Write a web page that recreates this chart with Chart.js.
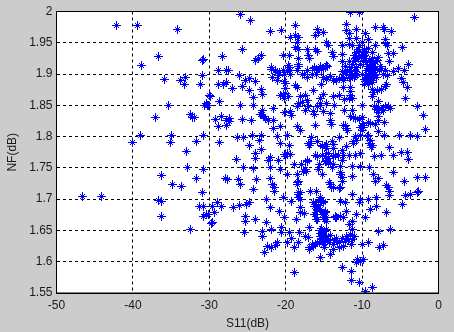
<!DOCTYPE html>
<html><head><meta charset="utf-8">
<script src="https://cdn.jsdelivr.net/npm/chart.js@4"></script>
<style>html,body{margin:0;padding:0;background:#cccccc}#w{position:absolute;left:0;top:0;width:454px;height:332px}</style>
</head><body><div id="w"><canvas id="c"></canvas></div>
<script>
const xTicks=[-50,-40,-30,-20,-10,0];
const yTicks=[1.55,1.6,1.65,1.7,1.75,1.8,1.85,1.9,1.95,2];
const leftPts=[[-42.1,1.978],[-39.4,1.978],[-34.2,1.971],[-36.6,1.928],[-38.9,1.914],[-35.8,1.892],[-33.8,1.89],[-33.1,1.895],[-33.2,1.883],[-31.1,1.883],[-30.9,1.898],[-30.9,1.922],[-30.7,1.923],[-28.3,1.928],[-28.8,1.906],[-27.8,1.906],[-28.8,1.883],[-28.1,1.883],[-27.7,1.886],[-30,1.865],[-29.8,1.864],[-28.6,1.856],[-35.4,1.85],[-30.6,1.85],[-30.3,1.85],[-30.4,1.853],[-30.1,1.85],[-37.1,1.83],[-32.4,1.835],[-32.2,1.83],[-32,1.83],[-29.2,1.827],[-28.4,1.832],[-28.8,1.816],[-27.7,1.826],[-27.7,1.817],[-39,1.802],[-40.1,1.79],[-35,1.802],[-35.1,1.79],[-30.7,1.802],[-31.7,1.792],[-28.6,1.79],[-33,1.776],[-32.8,1.75],[-46.6,1.705],[-44.1,1.705],[-36.2,1.738],[-34.8,1.724],[-33.7,1.72],[-30.8,1.748],[-31.7,1.733],[-27.9,1.733],[-30.9,1.711],[-36.7,1.698],[-36.3,1.696],[-36.2,1.673],[-28.9,1.695],[-31.3,1.689],[-30.7,1.689],[-29.6,1.689],[-28.4,1.689],[-30.7,1.673],[-30.4,1.676],[-30.1,1.676],[-29.3,1.679],[-29.6,1.663],[-29.7,1.661],[-32.4,1.652]];
const topPts=[[-25.9,1.996],[-24.6,1.985],[-11.5,1.998],[-10.3,1.998],[-3.1,1.99],[-22,1.968],[-20.6,1.97],[-18.7,1.977],[-19.4,1.958],[-18.7,1.962],[-18.3,1.958],[-18.5,1.951],[-18.7,1.943],[-18.3,1.94],[-15.9,1.971],[-15.7,1.966],[-16.1,1.961],[-15,1.966],[-12.1,1.98],[-12.1,1.969],[-11.7,1.965],[-10.7,1.971],[-11.7,1.957],[-10.7,1.957],[-9.6,1.965],[-9.1,1.955],[-8.3,1.974],[-7.2,1.974],[-7.1,1.971],[-6.2,1.968],[-6.9,1.955],[-6.9,1.949],[-8.3,1.946],[-6.7,1.946],[-4.7,1.942],[-25.7,1.939],[-23.2,1.929],[-23.5,1.925],[-24,1.921],[-20.3,1.929],[-19.5,1.93],[-18.3,1.925],[-17.2,1.94],[-17,1.93],[-16.9,1.925],[-16.1,1.94],[-15.9,1.936],[-14.6,1.95],[-14.4,1.945],[-13.8,1.928],[-13.9,1.935],[-12.6,1.946],[-12.6,1.932],[-12.6,1.92],[-11.7,1.948],[-11.3,1.945],[-20.3,1.905],[-19.5,1.91],[-19.4,1.9],[-18.3,1.915],[-18.4,1.905],[-21.9,1.91],[-21.3,1.905],[-20.8,1.903],[-20.2,1.9],[-19.8,1.905],[-20.9,1.897],[-21.7,1.895],[-16.2,1.91],[-15.8,1.905],[-15.3,1.907],[-14.8,1.91],[-14.5,1.912],[-17.8,1.9],[-17.1,1.895],[-16,1.9],[-5.9,1.933],[-6.5,1.933],[-6.4,1.92],[-5.2,1.909],[-3.9,1.916],[-4.4,1.905],[-6.7,1.898],[-4.8,1.893],[-4.6,1.886],[-4.1,1.878],[-4.3,1.861]];
const densePts=[[-11,1.93],[-10.7,1.935],[-10.5,1.94],[-10.3,1.945],[-10,1.95],[-10.4,1.93],[-10,1.935],[-9.7,1.94],[-10.9,1.925],[-10.5,1.925],[-10.1,1.928],[-9.7,1.93],[-9.4,1.935],[-9.5,1.925],[-11.2,1.915],[-11.1,1.92],[-11.4,1.91],[-11.7,1.905],[-12,1.9],[-11.3,1.9],[-11,1.905],[-10.7,1.91],[-11.6,1.895],[-11,1.895],[-10.6,1.9],[-12.2,1.912],[-9.8,1.92],[-9.4,1.918],[-9,1.922],[-8.6,1.925],[-9.3,1.912],[-8.9,1.915],[-8.5,1.917],[-8.2,1.92],[-9.4,1.905],[-9,1.908],[-8.6,1.91],[-8.3,1.908],[-9.5,1.898],[-9.1,1.9],[-8.7,1.902],[-8.3,1.9],[-9.3,1.893],[-8.9,1.895],[-8.5,1.893],[-8.1,1.895],[-9.6,1.888],[-9.1,1.888],[-8.6,1.886],[-7.7,1.905],[-7.2,1.9],[-6.9,1.905],[-7.6,1.912],[-7.9,1.926],[-8.6,1.934],[-9.2,1.941],[-10.2,1.915],[-12.4,1.895],[-13,1.893],[-13.8,1.89],[-14.6,1.892],[-15,1.895],[-8.7,1.876],[-8.5,1.87],[-8,1.873],[-7.5,1.876],[-7,1.88],[-6.8,1.884],[-8.7,1.864],[-7.8,1.856],[-8.4,1.848],[-8.1,1.843],[-7.8,1.846],[-7.4,1.843],[-7,1.848],[-6.5,1.848],[-7.8,1.838],[-7.9,1.832]];
const midPts=[[-27.5,1.906],[-26,1.898],[-25.3,1.89],[-24.7,1.893],[-24,1.888],[-25.7,1.88],[-27,1.877],[-24.7,1.874],[-23.2,1.875],[-23,1.868],[-24.2,1.862],[-24.2,1.85],[-25.9,1.85],[-27.7,1.826],[-25.7,1.827],[-24.5,1.826],[-23.2,1.835],[-23,1.842],[-21.6,1.845],[-22.2,1.826],[-22.6,1.829],[-21.6,1.825],[-20.7,1.816],[-21.6,1.813],[-26.3,1.799],[-25.5,1.799],[-24.4,1.801],[-23.2,1.801],[-23.4,1.793],[-24.7,1.785],[-23.2,1.78],[-24,1.773],[-24,1.765],[-26.4,1.763],[-22.2,1.762],[-22,1.767],[-20.9,1.762],[-20.7,1.789],[-21.1,1.8],[-19.7,1.802],[-19.5,1.786],[-19.8,1.773],[-20.2,1.771],[-19.4,1.771],[-20,1.768],[-21.9,1.907],[-21.1,1.89],[-18.7,1.881],[-18.5,1.878],[-20.1,1.888],[-20,1.877],[-20.7,1.866],[-20.3,1.868],[-20.2,1.861],[-19.6,1.864],[-17.4,1.866],[-16.4,1.873],[-15.3,1.884],[-15.4,1.861],[-15,1.868],[-15.5,1.849],[-18.3,1.853],[-17.8,1.855],[-18.5,1.848],[-17.4,1.842],[-18,1.864],[-16.4,1.84],[-16.2,1.836],[-20.1,1.838],[-19.2,1.833],[-19.4,1.84],[-15,1.84],[-14.1,1.837],[-14.1,1.826],[-14,1.82],[-13.6,1.849],[-13.8,1.864],[-13,1.866],[-12.3,1.859],[-11.7,1.861],[-11.2,1.861],[-12.4,1.878],[-11.5,1.879],[-11.5,1.872],[-11.5,1.866],[-12.3,1.842],[-11.2,1.842],[-10,1.85],[-11.1,1.83],[-10.4,1.827],[-10,1.83],[-12.5,1.817],[-12,1.813],[-10,1.817],[-9.8,1.815],[-9.1,1.823],[-8.3,1.82],[-7.1,1.822],[-7.9,1.808],[-7.1,1.801],[-9.1,1.802],[-10.2,1.802],[-10.7,1.794],[-11.1,1.789],[-9,1.789],[-8.8,1.782],[-6.4,1.783],[-5.9,1.77],[-8.4,1.769],[-7.5,1.77],[-4.8,1.774],[-4.1,1.774],[-3.9,1.763],[-5.1,1.802],[-3.7,1.801],[-2.8,1.8],[-1.7,1.811],[-1.9,1.833],[-2.8,1.848],[-16.6,1.799],[-16.8,1.789],[-15.9,1.792],[-15.2,1.784],[-14.6,1.787],[-13.9,1.792],[-13.7,1.781],[-12.9,1.799],[-12.6,1.778],[-12.1,1.784],[-16.1,1.77],[-15.2,1.77],[-14.6,1.773],[-14.4,1.765],[-14.8,1.76],[-14.2,1.757],[-13.5,1.77],[-12.6,1.762],[-11.7,1.77],[-10.8,1.77],[-10.2,1.773],[-10.2,1.753],[-17.2,1.76],[-17.9,1.755],[-18.8,1.755],[-15.6,1.755],[-12.8,1.752],[-11.3,1.752]];
const lowPts=[[-1.7,1.735],[-2.7,1.734],[-4.4,1.729],[-5.9,1.742],[-6.8,1.722],[-6.6,1.718],[-6.4,1.712],[-6.4,1.706],[-2.6,1.713],[-2.8,1.711],[-3.7,1.707],[-4.3,1.706],[-4.7,1.692],[-8.1,1.703],[-9.1,1.7],[-10.2,1.7],[-10.4,1.695],[-8.1,1.688],[-8.9,1.684],[-6.8,1.679],[-9.5,1.671],[-10.7,1.675],[-11.2,1.708],[-12.8,1.696],[-12.2,1.694],[-12.1,1.681],[-12.5,1.671],[-13.5,1.671],[-13.3,1.67],[-14.6,1.67],[-14.7,1.664],[-11.3,1.664],[-11.7,1.659],[-11.3,1.651],[-7.8,1.649],[-6.3,1.651],[-25.4,1.647],[-23.1,1.648],[-23,1.64],[-21.9,1.651],[-20.5,1.654],[-20.5,1.646],[-19.5,1.647],[-18.2,1.647],[-16.9,1.655],[-17.4,1.64],[-17,1.639],[-19.2,1.637],[-19.7,1.63],[-18.8,1.623],[-18.3,1.63],[-21.1,1.63],[-21.3,1.626],[-22.4,1.624],[-21.8,1.623],[-22.8,1.615],[-16.9,1.622],[-16.1,1.628],[-16.3,1.624],[-15.5,1.65],[-15.2,1.645],[-14.9,1.648],[-15.4,1.64],[-15,1.64],[-14.6,1.64],[-15.3,1.635],[-14.8,1.633],[-14.4,1.636],[-15,1.628],[-14.3,1.63],[-13.8,1.628],[-13.3,1.637],[-12.6,1.637],[-12.9,1.63],[-12.2,1.632],[-11.8,1.636],[-11.2,1.636],[-11.4,1.628],[-12.4,1.625],[-13,1.622],[-9.9,1.628],[-9.1,1.631],[-7.2,1.626],[-7.7,1.622],[-13.8,1.619],[-14.1,1.611],[-15.4,1.606],[-18.8,1.583],[-10.6,1.603],[-10.7,1.598],[-9.8,1.603],[-10.2,1.6],[-12.6,1.59],[-11.4,1.584],[-11.4,1.57],[-10.3,1.567],[-8.6,1.559],[-9.6,1.552],[-26.8,1.687],[-26,1.69],[-25.1,1.692],[-24.7,1.695],[-25.3,1.672],[-25.3,1.664],[-24,1.667],[-22.5,1.663],[-22,1.687],[-22.5,1.699],[-20.8,1.68],[-20.2,1.671],[-20.3,1.702],[-19.2,1.697],[-18.3,1.707],[-18.1,1.699],[-18.6,1.667],[-18.1,1.686],[-18,1.678],[-17.5,1.677],[-16.8,1.712],[-16,1.712],[-16.3,1.694],[-16.2,1.688],[-15.9,1.682],[-16.2,1.676],[-15.4,1.698],[-15,1.697],[-15.7,1.69],[-15.5,1.684],[-14.8,1.68],[-15.2,1.675],[-16,1.668],[-14.9,1.667],[-26.2,1.731],[-25.9,1.724],[-23.8,1.731],[-24.2,1.715],[-22,1.733],[-21.7,1.724],[-21.5,1.718],[-21.5,1.713],[-20.7,1.747],[-19.8,1.739],[-18.5,1.727],[-18.3,1.71],[-17.7,1.745],[-17.3,1.745],[-15.7,1.747],[-15.2,1.739],[-14.3,1.726],[-13.7,1.719],[-13,1.717],[-12.6,1.728],[-12.8,1.739],[-11.2,1.736],[-9,1.75],[-8.5,1.739],[-7.9,1.733],[-8.2,1.728],[-25.5,1.751],[-24.2,1.749],[-22,1.75],[-27.6,1.731]];
const extraPts=[[-23.3,1.835],[-22.9,1.832],[-27.4,1.829],[-27.4,1.824],[-18.5,1.816],[-18,1.809],[-16.1,1.818],[-12.2,1.818],[-11.9,1.81],[-10.2,1.815],[-10,1.81],[-9.8,1.818],[-8.9,1.821],[-7.8,1.832],[-7.9,1.826],[-7.2,1.842],[-6.3,1.845],[-11.5,1.832],[-10.9,1.829],[-21.1,1.903],[-20.9,1.898],[-20,1.885],[-20,1.869],[-19.4,1.906],[-19.6,1.914],[-18.3,1.912],[-17.2,1.906],[-17.5,1.9],[-16.5,1.9],[-16.2,1.909],[-15.5,1.912],[-15,1.909],[-14.6,1.914],[-14.1,1.896],[-13.3,1.89],[-12.4,1.89],[-12.6,1.904],[-11.7,1.92],[-11.9,1.906],[-11.2,1.898],[-10.9,1.898],[-11.5,1.893],[-10.9,1.904],[-10,1.9],[-9.7,1.892],[-9.2,1.883],[-9.7,1.883],[-5.9,1.904],[-7.4,1.909],[-8,1.922],[-15.9,1.848],[-15.5,1.853],[-17.2,1.858],[-17,1.848],[-14.6,1.853],[-13.7,1.788],[-14.6,1.781],[-14.4,1.773],[-15.2,1.786],[-14.8,1.784],[-13.1,1.77],[-12.4,1.77],[-13.7,1.768],[-14.8,1.768],[-14.6,1.762],[-14.4,1.757],[-17,1.789],[-16.9,1.786],[-15.9,1.768],[-17.2,1.762],[-11.1,1.792],[-10.9,1.8],[-9.3,1.8],[-8.9,1.794],[-8.7,1.786],[-18.3,1.728],[-18.5,1.723],[-18.1,1.71],[-18.3,1.702],[-18.5,1.74],[-17.4,1.747],[-13.9,1.75],[-13.7,1.755],[-12.8,1.742],[-12.6,1.734],[-14.2,1.723],[-14,1.718],[-12.8,1.718],[-16.1,1.691],[-15.9,1.683],[-16.1,1.675],[-15.5,1.702],[-15.7,1.696],[-15,1.694],[-14.8,1.678],[-15,1.67],[-14.6,1.67],[-15.9,1.667],[-13.5,1.672],[-12.8,1.672],[-15.3,1.653],[-14.6,1.651],[-15.5,1.645],[-14.2,1.642],[-13.6,1.634],[-13.2,1.631],[-12.1,1.641],[-11.5,1.644],[-11,1.64],[-15.6,1.631],[-14.9,1.622],[-16.5,1.627],[-16.9,1.619],[-15.8,1.63],[-8.8,1.905],[-8.8,1.898],[-8.8,1.912],[-8.4,1.905],[-8.4,1.897],[-9.1,1.905],[-8.7,1.918],[-8.9,1.89]];
const allPts=[...leftPts,...topPts,...densePts,...midPts,...lowPts,...extraPts];
const s11=allPts.map(p=>p[0]);
const nf=allPts.map(p=>p[1]);

const marker=document.createElement('canvas');
marker.width=9;marker.height=9;
(function(){const m=marker.getContext('2d');m.fillStyle='#0000ff';
 m.fillRect(0,4,9,1);m.fillRect(4,0,1,9);m.fillRect(3,3,3,3);
 m.fillRect(2,2,1,1);m.fillRect(6,2,1,1);m.fillRect(2,6,1,1);m.fillRect(6,6,1,1);})();

const framePlugin={id:'frame',
 beforeDraw(ch){const a=ch.chartArea,g=ch.ctx;g.save();g.fillStyle='#ffffff';g.fillRect(a.left,a.top,a.width,a.height);g.restore();},
 beforeDatasetsDraw(ch){ch.ctx.imageSmoothingEnabled=false;},
 afterDraw(ch){const a=ch.chartArea,g=ch.ctx;g.save();g.strokeStyle='#000';g.lineWidth=1;g.setLineDash([]);g.strokeRect(a.left,a.top,a.width,a.height);g.restore();}
};
const font={family:'"Liberation Sans",Arial,sans-serif',size:12};
new Chart(document.getElementById('c'),{
 type:'scatter',
 data:{datasets:[{data:s11.map((x,i)=>({x,y:nf[i]})),pointStyle:marker,pointRadius:4.5,showLine:false}]},
 options:{responsive:true,maintainAspectRatio:false,animation:false,
  layout:{padding:{left:0,right:15.5,top:11.5,bottom:0}},
  plugins:{legend:{display:false},tooltip:{enabled:false}},
  scales:{
   x:{type:'linear',min:-50,max:0,
    afterBuildTicks(s){s.ticks=xTicks.map(v=>({value:v}));},
    afterFit(s){s.height=39;},
    grid:{color:'#000',lineWidth:1,tickLength:0,drawTicks:false},
    border:{color:'#000',dash:[3,3]},
    ticks:{color:'#1a1a1a',font,maxRotation:0,padding:5,callback:v=>String(v)},
    title:{display:true,text:'S11(dB)',color:'#1a1a1a',font,padding:{top:3,bottom:1}}},
   y:{type:'linear',min:1.55,max:2,
    afterBuildTicks(s){s.ticks=yTicks.map(v=>({value:v}));},
    afterFit(s){s.width=56.5;},
    grid:{color:'#000',lineWidth:1,tickLength:0,drawTicks:false},
    border:{color:'#000',dash:[3,3]},
    ticks:{color:'#1a1a1a',font,padding:4,callback:v=>String(v)},
    title:{display:true,text:'NF(dB)',color:'#1a1a1a',font,padding:{top:5,bottom:0}}}
  }},
 plugins:[framePlugin]
});
</script></body></html>
